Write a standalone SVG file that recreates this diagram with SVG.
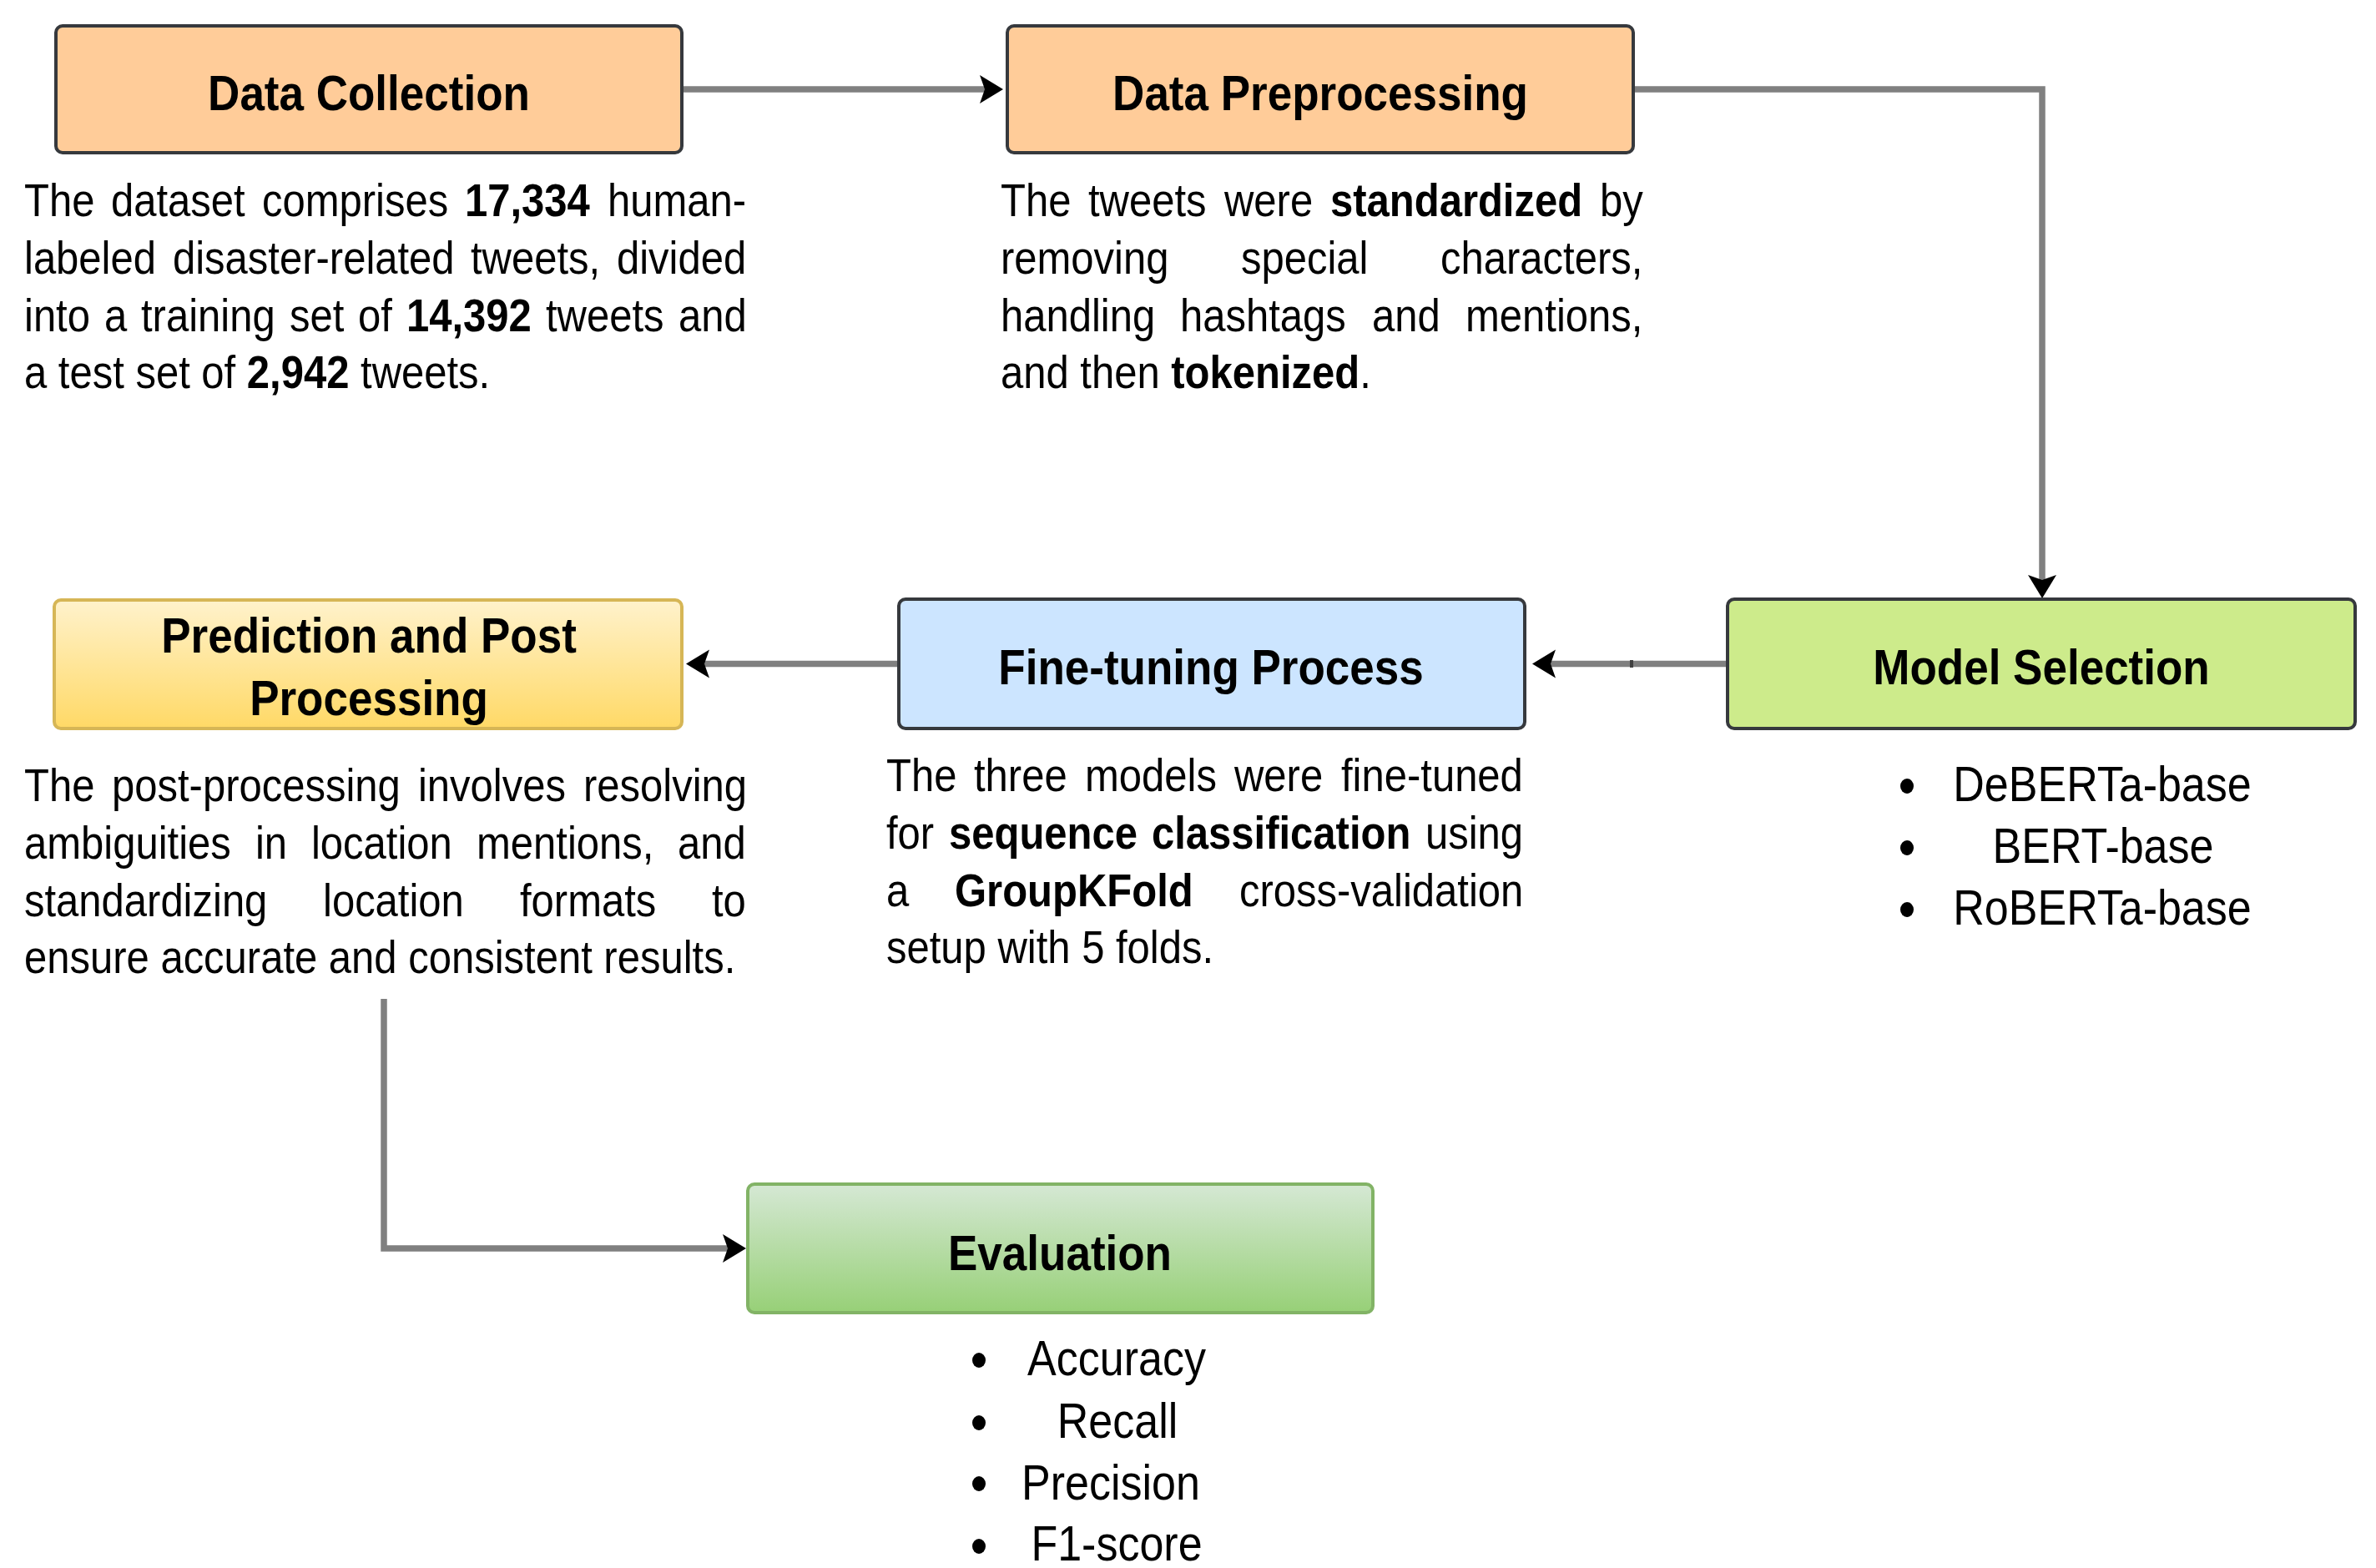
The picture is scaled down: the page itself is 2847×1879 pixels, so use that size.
<svg xmlns="http://www.w3.org/2000/svg" width="2847" height="1879" viewBox="0 0 2847 1879">
  <defs>
    <linearGradient id="gradYellow" x1="0" y1="0" x2="0" y2="1">
      <stop offset="0" stop-color="#fff2cc"/>
      <stop offset="1" stop-color="#ffd966"/>
    </linearGradient>
    <linearGradient id="gradGreen" x1="0" y1="0" x2="0" y2="1">
      <stop offset="0" stop-color="#d5e8d4"/>
      <stop offset="1" stop-color="#97d077"/>
    </linearGradient>
    <marker id="arrow" markerUnits="userSpaceOnUse" markerWidth="30" markerHeight="36" refX="6" refY="17" orient="auto">
      <path d="M0,0 L28,17 L0,34 L6,17 Z" fill="#000000"/>
    </marker>
    <style>
      .box { stroke: #36393d; stroke-width: 4; }
      .title { font-family: "Liberation Sans", Arial, sans-serif; font-size: 53px; font-weight: bold; fill: #000000; text-anchor: middle; }
      .t { font-family: "Liberation Sans", Arial, sans-serif; font-size: 49px; fill: #000000; }
      .li { font-family: "Liberation Sans", Arial, sans-serif; font-size: 52px; fill: #000000; text-anchor: middle; }
      .b { font-weight: bold; }
      .conn { fill: none; stroke: #808080; stroke-width: 7.5; }
      .dot { fill: #000000; }
    </style>
  </defs>

  <rect width="2847" height="1879" fill="#ffffff"/>

  <!-- connectors -->
  <g id="connectors">
    <path class="conn" d="M819,107 H1180" marker-end="url(#arrow)"/>
    <path class="conn" d="M1958,107 H2447 V695" marker-end="url(#arrow)"/>
    <path class="conn" d="M2070,795.5 H1858" marker-end="url(#arrow)"/>
    <rect x="1953" y="791" width="4" height="9" fill="#404040"/>
    <path class="conn" d="M1076,795.5 H844" marker-end="url(#arrow)"/>
    <path class="conn" d="M460,1197 V1496 H872" marker-end="url(#arrow)"/>
  </g>

  <!-- Data Collection -->
  <g id="data-collection">
    <rect class="box" x="67" y="31" width="750" height="152" rx="8" fill="#ffcc99"/>
    <text class="title" transform="translate(442,132) scale(1,1.13)">Data Collection</text>
    <text class="t" transform="translate(0,259) scale(1,1.13)"><tspan x="29">The</tspan><tspan x="133">dataset</tspan><tspan x="314">comprises</tspan><tspan x="557" class="b">17,334</tspan><tspan x="728">human-</tspan></text>
    <text class="t" transform="translate(0,328) scale(1,1.13)"><tspan x="29">labeled</tspan><tspan x="207">disaster-related</tspan><tspan x="564">tweets,</tspan><tspan x="739">divided</tspan></text>
    <text class="t" transform="translate(0,397) scale(1,1.13)"><tspan x="29">into</tspan><tspan x="125">a</tspan><tspan x="169">training</tspan><tspan x="347">set</tspan><tspan x="429">of</tspan><tspan x="487" class="b">14,392</tspan><tspan x="654">tweets</tspan><tspan x="813">and</tspan></text>
    <text class="t" transform="translate(29,465) scale(1,1.13)">a test set of <tspan class="b">2,942</tspan> tweets.</text>
  </g>

  <!-- Data Preprocessing -->
  <g id="data-preprocessing">
    <rect class="box" x="1207" y="31" width="750" height="152" rx="8" fill="#ffcc99"/>
    <text class="title" transform="translate(1582,132) scale(1,1.13)">Data Preprocessing</text>
    <text class="t" transform="translate(0,259) scale(1,1.13)"><tspan x="1199">The</tspan><tspan x="1304">tweets</tspan><tspan x="1467">were</tspan><tspan x="1594" class="b">standardized</tspan><tspan x="1917">by</tspan></text>
    <text class="t" transform="translate(0,328) scale(1,1.13)"><tspan x="1199">removing</tspan><tspan x="1487">special</tspan><tspan x="1726">characters,</tspan></text>
    <text class="t" transform="translate(0,397) scale(1,1.13)"><tspan x="1199">handling</tspan><tspan x="1414">hashtags</tspan><tspan x="1644">and</tspan><tspan x="1756">mentions,</tspan></text>
    <text class="t" transform="translate(1199,465) scale(1,1.13)">and then <tspan class="b">tokenized</tspan>.</text>
  </g>

  <!-- Model Selection -->
  <g id="model-selection">
    <rect class="box" x="2070" y="718" width="752" height="155" rx="8" fill="#cdeb8b"/>
    <text class="title" transform="translate(2446,820) scale(1,1.13)">Model Selection</text>
    <ellipse class="dot" cx="2285" cy="942" rx="8" ry="9"/>
    <ellipse class="dot" cx="2285" cy="1016" rx="8" ry="9"/>
    <ellipse class="dot" cx="2285" cy="1090" rx="8" ry="9"/>
    <text class="li" transform="translate(2519,960) scale(1,1.13)">DeBERTa-base</text>
    <text class="li" transform="translate(2520,1034) scale(1,1.13)">BERT-base</text>
    <text class="li" transform="translate(2519,1108) scale(1,1.13)">RoBERTa-base</text>
  </g>

  <!-- Fine-tuning Process -->
  <g id="fine-tuning">
    <rect class="box" x="1077" y="718" width="750" height="155" rx="8" fill="#cce5ff"/>
    <text class="title" transform="translate(1451,820) scale(1,1.13)">Fine-tuning Process</text>
    <text class="t" transform="translate(0,948) scale(1,1.13)"><tspan x="1062">The</tspan><tspan x="1167">three</tspan><tspan x="1300">models</tspan><tspan x="1479">were</tspan><tspan x="1607">fine-tuned</tspan></text>
    <text class="t" transform="translate(0,1017) scale(1,1.13)"><tspan x="1062">for</tspan><tspan x="1137" class="b">sequence</tspan><tspan x="1380" class="b">classification</tspan><tspan x="1708">using</tspan></text>
    <text class="t" transform="translate(0,1086) scale(1,1.13)"><tspan x="1062">a</tspan><tspan x="1144" class="b">GroupKFold</tspan><tspan x="1485">cross-validation</tspan></text>
    <text class="t" transform="translate(1062,1154) scale(1,1.13)">setup with 5 folds.</text>
  </g>

  <!-- Prediction and Post Processing -->
  <g id="prediction">
    <rect x="65" y="719" width="752" height="154" rx="8" fill="url(#gradYellow)" stroke="#d6b656" stroke-width="4"/>
    <text class="title" transform="translate(442,782) scale(1,1.13)">Prediction and Post</text>
    <text class="title" transform="translate(442,857) scale(1,1.13)">Processing</text>
    <text class="t" transform="translate(0,960) scale(1,1.13)"><tspan x="29">The</tspan><tspan x="134">post-processing</tspan><tspan x="501">involves</tspan><tspan x="699">resolving</tspan></text>
    <text class="t" transform="translate(0,1029) scale(1,1.13)"><tspan x="29">ambiguities</tspan><tspan x="306">in</tspan><tspan x="373">location</tspan><tspan x="571">mentions,</tspan><tspan x="812">and</tspan></text>
    <text class="t" transform="translate(0,1098) scale(1,1.13)"><tspan x="29">standardizing</tspan><tspan x="387">location</tspan><tspan x="623">formats</tspan><tspan x="853">to</tspan></text>
    <text class="t" transform="translate(29,1166) scale(1,1.13)">ensure accurate and consistent results.</text>
  </g>

  <!-- Evaluation -->
  <g id="evaluation">
    <rect x="896" y="1419" width="749" height="154" rx="8" fill="url(#gradGreen)" stroke="#82b366" stroke-width="4"/>
    <text class="title" transform="translate(1270,1522) scale(1,1.13)">Evaluation</text>
    <ellipse class="dot" cx="1173" cy="1630" rx="8" ry="9"/>
    <ellipse class="dot" cx="1173" cy="1705" rx="8" ry="9"/>
    <ellipse class="dot" cx="1173" cy="1778" rx="8" ry="9"/>
    <ellipse class="dot" cx="1173" cy="1853" rx="8" ry="9"/>
    <text class="li" transform="translate(1338,1648) scale(1,1.13)">Accuracy</text>
    <text class="li" transform="translate(1339,1723) scale(1,1.13)">Recall</text>
    <text class="li" transform="translate(1331,1797) scale(1,1.13)">Precision</text>
    <text class="li" transform="translate(1338,1870) scale(1,1.13)">F1-score</text>
  </g>
</svg>
